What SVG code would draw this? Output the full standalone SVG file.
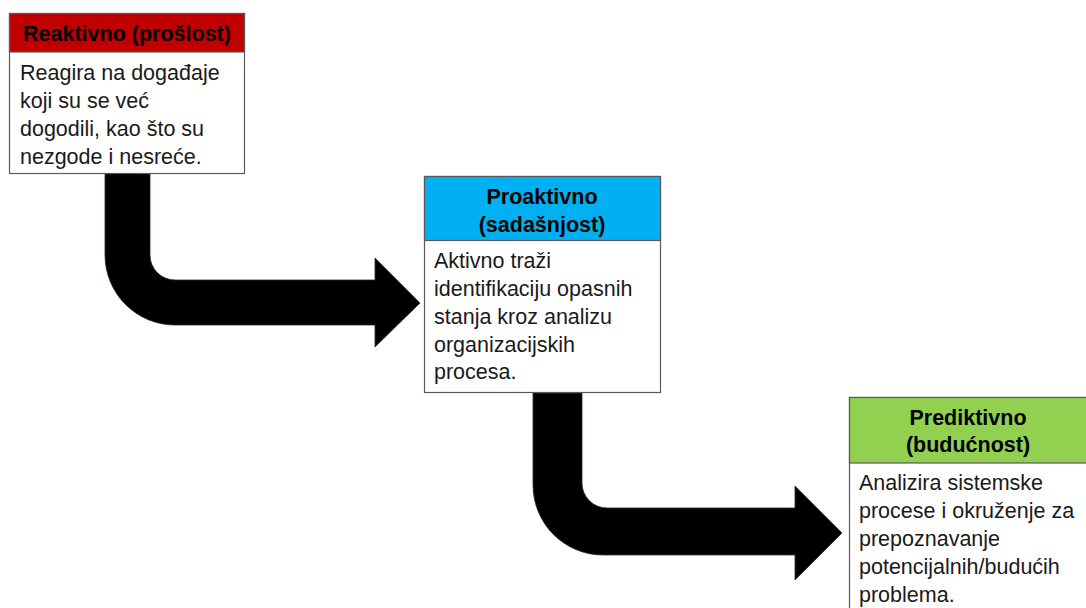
<svg xmlns="http://www.w3.org/2000/svg" width="1086" height="608" viewBox="0 0 1086 608">
<style>
.box{fill:#fff;stroke:#595959;stroke-width:1.2}
.hd{stroke:#595959;stroke-width:1.2}
.ht{font-family:"Liberation Sans",Arial,sans-serif;font-weight:bold;font-size:21.5px;fill:#000;text-anchor:middle}
.bt{font-family:"Liberation Sans",Arial,sans-serif;font-size:21.5px;fill:#1a1a1a}
.arr{fill:#000;stroke:#1f3040;stroke-width:0.8}
</style>
<rect width="1086" height="608" fill="#fff"/>
<g id="connectors">
<path class="arr" d="M105,173 L105,255 A70,70 0 0 0 175,325 L375,325 L375,347 L420,303 L375,258 L375,280 L175,280 A25,25 0 0 1 150,255 L150,173 Z"/>
<path class="arr" d="M533,393 L533,485 A70,70 0 0 0 603,555 L795,555 L795,580 L842,533 L795,486 L795,508 L607,508 A25,25 0 0 1 582,483 L582,393 Z"/>
</g>
<g id="reaktivno">
<rect class="box" x="9.5" y="13.5" width="235" height="160"/>
<rect class="hd" x="9.5" y="13.5" width="235" height="38.5" fill="#C00000"/>
<text class="ht" x="127" y="41">Reaktivno (prošlost)</text>
<text class="bt" x="20" y="80">Reagira na događaje</text>
<text class="bt" x="20" y="108">koji su se već</text>
<text class="bt" x="20" y="136">dogodili, kao što su</text>
<text class="bt" x="20" y="164">nezgode i nesreće.</text>
</g>
<g id="proaktivno">
<rect class="box" x="424.5" y="176.5" width="236" height="216"/>
<rect class="hd" x="424.5" y="176.5" width="236" height="64" fill="#00B0F0"/>
<text class="ht" x="542" y="204">Proaktivno</text>
<text class="ht" x="542" y="232">(sadašnjost)</text>
<text class="bt" x="434" y="268">Aktivno traži</text>
<text class="bt" x="434" y="296">identifikaciju opasnih</text>
<text class="bt" x="434" y="324">stanja kroz analizu</text>
<text class="bt" x="434" y="352">organizacijskih</text>
<text class="bt" x="434" y="379">procesa.</text>
</g>
<g id="prediktivno">
<rect class="box" x="849.5" y="397.5" width="240" height="220"/>
<rect class="hd" x="849.5" y="397.5" width="240" height="65.5" fill="#92D050"/>
<text class="ht" x="968" y="425">Prediktivno</text>
<text class="ht" x="968" y="452">(budućnost)</text>
<text class="bt" x="859" y="490">Analizira sistemske</text>
<text class="bt" x="859" y="518">procese i okruženje za</text>
<text class="bt" x="859" y="546">prepoznavanje</text>
<text class="bt" x="859" y="574">potencijalnih/budućih</text>
<text class="bt" x="859" y="602">problema.</text>
</g>
</svg>
